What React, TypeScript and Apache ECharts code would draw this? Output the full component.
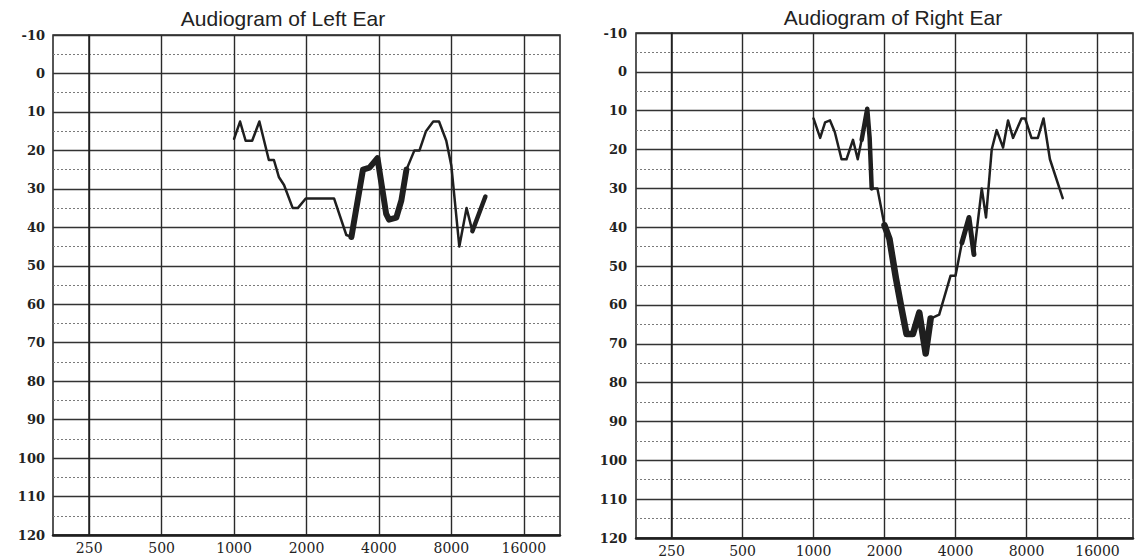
import React, { useEffect, useRef } from "react";
import * as echarts from "echarts";

// Frequency tick labels (Hz) and hearing-level range (dB)
const X_TICK_FREQS = [250, 500, 1000, 2000, 4000, 8000, 16000];
const DB_MIN = -10;
const DB_MAX = 120;

// Left ear trace
const LEFT_FREQ = [1000, 1059, 1117, 1189, 1274, 1395, 1464, 1537, 1613, 1753, 1840, 1986, 2603, 2928, 3074, 3434, 3655, 3944, 4287, 4407, 4724, 4959, 5205, 5618, 5897, 6276, 6727, 7110, 7621, 8000, 8634, 9254, 9781, 10267, 11081];
const LEFT_DB = [17, 12.5, 17.5, 17.5, 12.5, 22.5, 22.5, 27, 29, 35, 35, 32.5, 32.5, 42, 42.5, 25, 24.5, 22, 36.5, 38, 37.5, 33, 25, 20, 20, 15, 12.5, 12.5, 17.5, 24, 45, 35, 41, 37.5, 32];
const LEFT_HEAVY = [[3074, 5205], [9781, 11081]];

// Right ear trace
const RIGHT_FREQ = [1000, 1067, 1120, 1175, 1231, 1315, 1380, 1470, 1540, 1600, 1690, 1730, 1765, 1866, 2000, 2099, 2234, 2346, 2480, 2639, 2809, 2990, 3138, 3411, 3810, 4000, 4257, 4563, 4790, 5169, 5389, 5696, 5979, 6364, 6680, 7013, 7621, 7890, 8398, 8938, 9448, 10056, 11391];
const RIGHT_DB = [12, 17, 13, 12.5, 15.5, 22.5, 22.5, 17.5, 22.5, 17.5, 9.5, 17, 30, 30, 39.5, 43, 53, 60, 67.5, 67.5, 62, 72.5, 63.5, 62.5, 52.5, 52.5, 44, 37.5, 47, 30, 37.5, 20, 15, 19.5, 12.5, 17, 12, 12, 17, 17, 12, 22.5, 32.5];
const RIGHT_HEAVY = [[1600, 1765], [2000, 3138], [4257, 4790]];

const oct = (f: number) => Math.log2(f / X_TICK_FREQS[0]);

function pts(freqs: number[], dbs: number[], lo = -Infinity, hi = Infinity) {
  const out: number[][] = [];
  freqs.forEach((f, i) => {
    if (f >= lo && f <= hi) out.push([oct(f), dbs[i]]);
  });
  return out;
}

const INK = "#1f1f1f";

function xAxisFor(gridIndex: number) {
  return {
    type: "value",
    gridIndex,
    min: -0.5,
    max: 6.5,
    interval: 0.5,
    axisLine: { show: true, onZero: false, lineStyle: { color: INK, width: 2.5 } },
    axisTick: { show: false },
    axisLabel: {
      margin: 6,
      color: "#222",
      fontFamily: "DejaVu Serif",
      fontSize: 14,
      formatter: (v: number) => {
        const k = Math.round(v);
        return Math.abs(v - k) < 1e-6 && k >= 0 && k < X_TICK_FREQS.length ? String(X_TICK_FREQS[k]) : "";
      },
    },
    splitLine: { show: true, lineStyle: { color: ["rgba(0,0,0,0)", "#2a2a2a"], width: 1.4 } },
  };
}

function yAxisFor(gridIndex: number, margin: number) {
  return {
    type: "value",
    gridIndex,
    inverse: true,
    min: DB_MIN,
    max: DB_MAX,
    interval: 10,
    axisLine: { show: true, lineStyle: { color: INK, width: 1.5 } },
    axisTick: { show: false },
    axisLabel: {
      margin,
      color: "#222",
      fontFamily: "DejaVu Serif",
      fontWeight: "bold",
      fontSize: 13,
    },
    splitLine: { show: true, lineStyle: { color: "#333", width: 1.3 } },
    minorTick: { show: false, splitNumber: 2 },
    minorSplitLine: { show: true, lineStyle: { color: "#7a7a7a", width: 1, type: [2, 2] } },
  };
}

function seriesFor(idx: number, freqs: number[], dbs: number[], heavy: number[][], widths: number[]) {
  const list: any[] = [
    {
      type: "line",
      xAxisIndex: idx,
      yAxisIndex: idx,
      data: pts(freqs, dbs),
      showSymbol: false,
      symbol: "none",
      lineStyle: { color: INK, width: 2.5, join: "round", cap: "round" },
      silent: true,
    },
  ];
  heavy.forEach(([lo, hi], j) => {
    list.push({
      type: "line",
      xAxisIndex: idx,
      yAxisIndex: idx,
      data: pts(freqs, dbs, lo, hi),
      showSymbol: false,
      symbol: "none",
      lineStyle: { color: INK, width: widths[j], join: "round", cap: "round" },
      silent: true,
    });
  });
  return list;
}

export default function App() {
  const ref = useRef<HTMLDivElement>(null);
  useEffect(() => {
    if (!ref.current) return;
    const chart = echarts.init(ref.current, null, { renderer: "svg" });
    chart.setOption({
      animation: false,
      backgroundColor: "#ffffff",
      title: [
        {
          text: "Audiogram of Left Ear",
          left: 283,
          top: 8,
          padding: 0,
          textAlign: "center",
          textStyle: { fontFamily: "Liberation Sans", fontSize: 21, fontWeight: "normal", color: "#222" },
        },
        {
          text: "Audiogram of Right Ear",
          left: 893,
          top: 7,
          padding: 0,
          textAlign: "center",
          textStyle: { fontFamily: "Liberation Sans", fontSize: 21, fontWeight: "normal", color: "#222" },
        },
      ],
      grid: [
        { left: 53, top: 35, width: 507, height: 500, show: true, borderColor: INK, borderWidth: 1.5 },
        { left: 636, top: 33, width: 504, height: 506, show: true, borderColor: INK, borderWidth: 1.5 },
      ],
      xAxis: [xAxisFor(0), xAxisFor(1)],
      yAxis: [yAxisFor(0, 8), yAxisFor(1, 9)],
      series: [
        ...seriesFor(0, LEFT_FREQ, LEFT_DB, LEFT_HEAVY, [6, 4.5]),
        ...seriesFor(1, RIGHT_FREQ, RIGHT_DB, RIGHT_HEAVY, [4.5, 6.5, 5]),
      ],
    });
    return () => chart.dispose();
  }, []);
  return (
    <div
      ref={ref}
      style={{ position: "fixed", left: 0, top: 0, width: 1136, height: 558, background: "#fff" }}
    />
  );
}
